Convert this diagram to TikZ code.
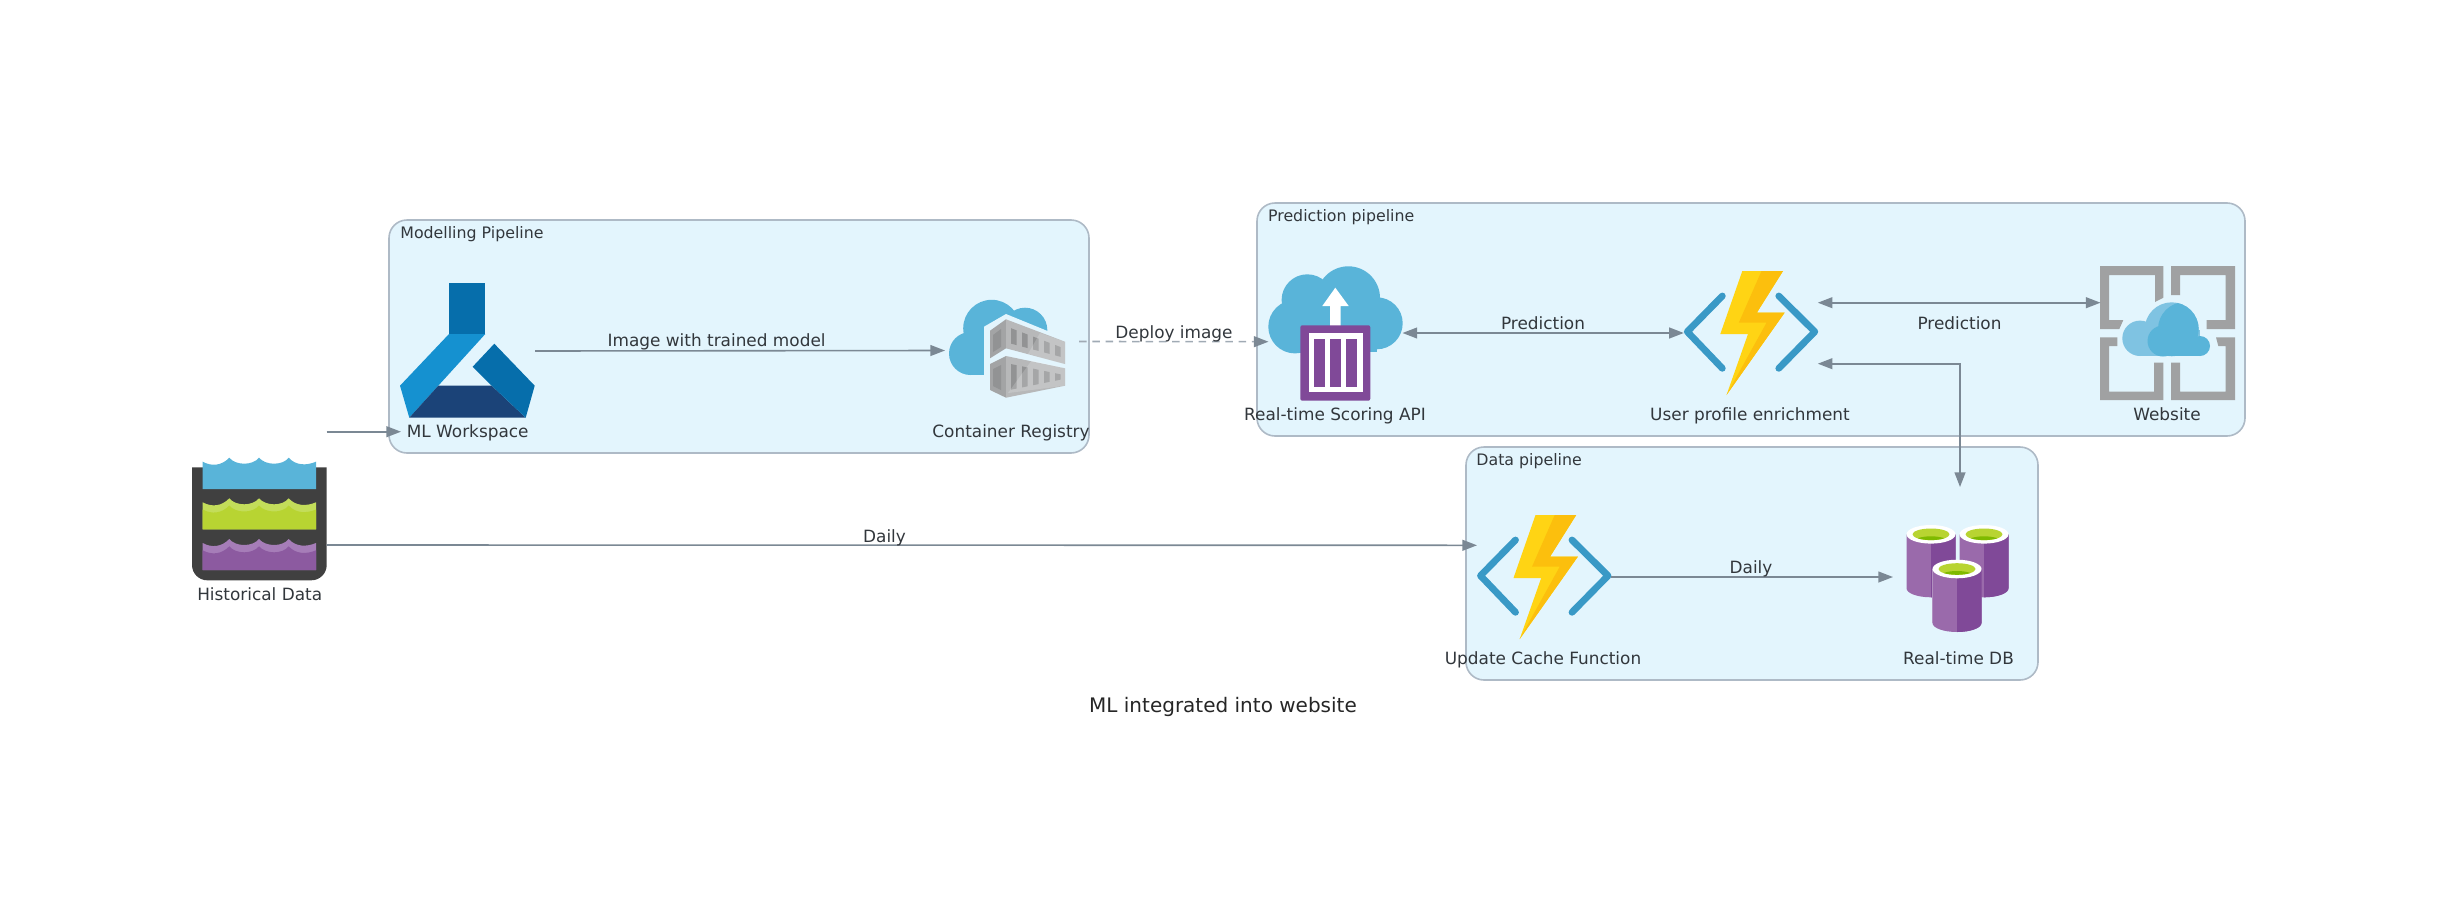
\documentclass[tikz,border=0pt]{standalone}
\usepackage{fontspec}
\setmainfont{DejaVu Sans}
\usetikzlibrary{arrows.meta,calc}
\definecolor{boxfill}{HTML}{E3F5FD}
\definecolor{boxline}{HTML}{AEBAC6}
\definecolor{edgecol}{HTML}{7B8894}
\definecolor{dashcol}{HTML}{A0AAB4}
\definecolor{txt}{HTML}{32373C}
\definecolor{azblue}{HTML}{59B4D9}
\definecolor{azlight}{HTML}{7FC3E2}
\definecolor{azpurple}{HTML}{804998}
\definecolor{azpurplel}{HTML}{9A6AAB}
\definecolor{bracket}{HTML}{3999C6}
\definecolor{bolta}{HTML}{FFD414}
\definecolor{boltb}{HTML}{FCBF0D}
\definecolor{webgrey}{HTML}{A0A1A2}
\definecolor{greya}{HTML}{A3A4A5}
\definecolor{greyb}{HTML}{B7B8B9}
\definecolor{greyc}{HTML}{929394}
\newcommand{\wavepath}[2]{(#1,#2+4) .. controls (#1+9,#2+9) and (#1+19,#2+8) .. (#1+26.6,#2) .. controls (#1+33,#2+8) and (#1+50,#2+8) .. (#1+56.3,#2) .. controls (#1+63,#2+8) and (#1+80,#2+8) .. (#1+86,#2) .. controls (#1+93,#2+8) and (#1+104,#2+8) .. (#1+113.3,#2+4)}
\tikzset{
  x=0.5pt,y=-0.5pt,
  cluster/.style={draw=boxline,fill=boxfill,line width=0.8pt,rounded corners=9pt},
  iconbox/.style={inner sep=0pt,outer sep=0pt,minimum width=67pt},
  lbl/.style={inner sep=0pt,text=txt,font=\fontsize{8.45}{10}\selectfont,anchor=mid,yshift=-0.7pt},
  grplbl/.style={inner sep=0pt,text=txt,font=\fontsize{7.9}{10}\selectfont,anchor=mid west,yshift=-0.7pt},
  edge/.style={draw=edgecol,line width=0.8pt,>={Triangle[length=7.3pt,width=5.4pt]}},
  dashedge/.style={edge,draw=dashcol,dash pattern=on 3.75pt off 2.9pt,-{Triangle[length=7.3pt,width=5.4pt,color=edgecol]}},
  funcicon/.pic={
    \fill[bolta] (-8.5,-62)--(32.2,-62)--(6,-20.3)--(33.8,-20.3)--(-24.3,62)--(-2.8,1)--(-30.5,1)--cycle;
    \fill[boltb] (10.7,-62)--(32.2,-62)--(6,-20.3)--(33.8,-20.3)--(-24.3,62)--(15.7,-10.3)--(-12,-10.3)--cycle;
    \draw[bracket,line width=3.4pt,line cap=round,line join=round] (-28.5,-37)--(-63.5,-1.3)--(-28.5,35.3);
    \draw[bracket,line width=3.4pt,line cap=round,line join=round] (28,-37)--(64,-1.3)--(28,35.3);
  },
  dbcyl/.pic={
    \fill[azpurplel] (-24.5,0)--(24.5,0)--(24.5,54) arc[start angle=0,end angle=180,x radius=24.5,y radius=9]--cycle;
    \fill[azpurple] (0,0)--(24.5,0)--(24.5,54) arc[start angle=0,end angle=90,x radius=24.5,y radius=9]--cycle;
    \fill[white] (0,0) ellipse[x radius=24.5,y radius=9.3];
    \fill[HTML=B8D432] (0,0) ellipse[x radius=18.5,y radius=5.8];
    \begin{scope}
      \clip (0,0) ellipse[x radius=18.5,y radius=5.8];
      \fill[HTML=7FBA00] (0,8) ellipse[x radius=18,y radius=6];
    \end{scope}
  },
  HTML/.code={\definecolor{tmpcol}{HTML}{#1}\tikzset{color=tmpcol}},
}
\begin{document}
\begin{tikzpicture}
\useasboundingbox (0,0) rectangle (2448,916);
% clusters
\path[cluster] (389,220) rectangle (1089,453);
\path[cluster] (1257,203) rectangle (2245,436);
\path[cluster] (1466,447) rectangle (2038,680);
% anchor boxes
\node[iconbox,minimum height=67pt] (hist) at (259.5,545) {};
\node[iconbox,minimum height=67pt] (ml) at (468,351) {};
\node[iconbox,minimum height=67pt] (cont) at (1012,346) {};
\node[iconbox,minimum height=67pt] (score) at (1335.5,333) {};
\node[iconbox,minimum height=67pt] (enrich) at (1750.8,333) {};
\node[iconbox,minimum height=67pt] (web) at (2167.5,333) {};
\node[iconbox,minimum height=62pt] (upd) at (1544,577) {};
\node[iconbox,minimum height=90pt] (db) at (1960,577) {};
% Historical data icon
\fill[HTML=404040] (192,467.3)--(202.7,467.3)--(316,467.3)--(326.7,467.3)--(326.7,565) arc[start angle=0,end angle=90,radius=15.3] -- (207.3,580.3) arc[start angle=90,end angle=180,radius=15.3]--cycle;
\fill[azblue] \wavepath{202.7}{457.7} -- (316,489) -- (202.7,489) -- cycle;
\fill[HTML=C3DD5A] \wavepath{202.7}{498.3} -- (316,529.3) -- (202.7,529.3) -- cycle;
\fill[HTML=B8D432] \wavepath{202.7}{505.5} -- (316,529.3) -- (202.7,529.3) -- cycle;
\fill[HTML=A67DB8] \wavepath{202.7}{539} -- (316,570) -- (202.7,570) -- cycle;
\fill[HTML=8C5AA0] \wavepath{202.7}{546.3} -- (316,570) -- (202.7,570) -- cycle;
% ML workspace icon
\fill[HTML=066EAB] (449,283.3) rectangle (485.3,334);
\fill[HTML=1591D0] (449,334)--(485.3,334)--(438.3,385.7)--(409.3,417.7)--(400,385.7)--cycle;
\fill[HTML=1B4378] (438.3,385.7)--(491.7,385.7)--(525.7,417.7)--(409.3,417.7)--cycle;
\fill[HTML=066EAB] (494.3,343.7)--(534.7,385.7)--(525.7,417.7)--(491.7,385.7)--(472.7,366.7)--cycle;
% Container registry icon
\fill[azblue] (991.7,328.3) circle[radius=28.5];
\fill[azblue] (1025,330) circle[radius=22.3];
\fill[azblue] (970.5,353.5) circle[radius=21.5];
\fill[azblue] (970,340) rectangle (990,375);
\fill[boxfill] (984,326.7)--(1006,314)--(1072,341)--(1072,404)--(984,404)--cycle;
\fill[greya] (990,330.7)--(1006,319.3)--(1006,348.3)--(990,358.3)--cycle;
\fill[greyb] (1006,319.3)--(1065,341.7)--(1065,364)--(1006,348.3)--cycle;
\fill[greya] (990,364)--(1006,356)--(1006,397.7)--(990,390)--cycle;
\fill[greyb] (1006,356)--(1065,368.3)--(1065,385.7)--(1006,397.7)--cycle;
\foreach \sx in {1011,1022,1033,1044,1055}{
  \pgfmathsetmacro{\ex}{\sx+5.5}
  \pgfmathsetmacro{\ta}{319.3+(\sx-1006)*0.38+7}
  \pgfmathsetmacro{\tb}{319.3+(\ex-1006)*0.38+7}
  \pgfmathsetmacro{\ba}{348.3+(\sx-1006)*0.266-6}
  \pgfmathsetmacro{\bb}{348.3+(\ex-1006)*0.266-6}
  \fill[greyc] (\sx,\ta)--(\ex,\tb)--(\ex,\bb)--(\sx,\ba)--cycle;
  \pgfmathsetmacro{\tc}{356+(\sx-1006)*0.208+7}
  \pgfmathsetmacro{\td}{356+(\ex-1006)*0.208+7}
  \pgfmathsetmacro{\bc}{397.7-(\sx-1006)*0.203-7}
  \pgfmathsetmacro{\bd}{397.7-(\ex-1006)*0.203-7}
  \fill[greyc] (\sx,\tc)--(\ex,\td)--(\ex,\bd)--(\sx,\bc)--cycle;
}
\fill[greyc] (993,335)--(1001,329)--(1001,347)--(993,352)--cycle;
\fill[greyc] (993,369)--(1001,365)--(1001,390)--(993,386)--cycle;
\fill[white,opacity=.18] (1008,393)--(1032,360)--(1065,368.3)--(1065,385.7)--cycle;
\fill[white,opacity=.18] (1040,333)--(1065,341.7)--(1065,364)--(1028,354)--cycle;
% Scoring API icon
\fill[azblue] (1307.3,300) circle[radius=25.7];
\fill[azblue] (1348.3,298) circle[radius=31.7];
\fill[azblue] (1295,326.7) circle[radius=26.7];
\fill[azblue] (1376.7,323.3) circle[radius=26];
\fill[azblue] (1295,310) rectangle (1376.7,352.3);
\fill[white] (1330,306)--(1322.3,306)--(1335.3,287.7)--(1348.7,306)--(1340.7,306)--(1340.7,330)--(1330,330)--cycle;
\fill[azpurple,rounded corners=1pt] (1300.3,325.3) rectangle (1370.3,400.7);
\fill[white] (1308.7,333.3) rectangle (1362.7,392.3);
\foreach \bx in {1314,1330,1346.3}{\fill[azpurple] (\bx,338.7) rectangle (\bx+10.7,387);}
% function icons
\pic at (enrich.center) {funcicon};
\pic at (upd.center) {funcicon};
% website icon
\fill[webgrey] (2100,266)--(2163.3,266)--(2163.3,297.7)--(2155,302)--(2155,275)--(2109,275)--(2109,320)--(2123.3,320)--(2119.3,329)--(2100,329)--cycle;
\fill[webgrey] (2235,266)--(2171,266)--(2171,295)--(2180,295)--(2180,275)--(2225.7,275)--(2225.7,320)--(2206.7,320)--(2206.7,329)--(2235,329)--cycle;
\fill[webgrey] (2100,400)--(2163.3,400)--(2163.3,362.7)--(2154,362.7)--(2154,391.7)--(2109,391.7)--(2109,346)--(2117.3,346)--(2117.3,337.3)--(2100,337.3)--cycle;
\fill[webgrey] (2235,400)--(2171,400)--(2171,362.7)--(2180,362.7)--(2180,391.7)--(2225.7,391.7)--(2225.7,346)--(2218.3,346)--(2216,337.3)--(2235,337.3)--cycle;
\fill[azlight] (2171.7,329.3) circle[radius=27];
\fill[azlight] (2140,338.3) circle[radius=17.7];
\fill[azlight] (2140,330) rectangle (2200,356);
\begin{scope}
  \clip (2171.7,329.3) circle[radius=27];
  \fill[azblue] (2185,329) circle[radius=27];
\end{scope}
\fill[azblue] (2200,346) circle[radius=10];
\fill[azblue] (2163,341) circle[radius=15.5];
\fill[azblue] (2163,340) rectangle (2200,356);
% DB icon
\pic at (1931,534.3) {dbcyl};
\pic at (1984,534.3) {dbcyl};
\draw[HTML=BFA6CC,line width=0.6pt] (1932.5,569)--(1932.5,623);
\pic at (1957,569) {dbcyl};
% edges
\draw[edge,->] ([yshift=56.65pt]hist.east) -- ([yshift=-40.35pt]ml.west);
\draw[edge,->] (hist.east) -- ([yshift=15.85pt]upd.west);
\draw[edge,->] (ml.east) -- ([yshift=-2.25pt]cont.west);
\draw[dashedge] ([yshift=2.25pt]cont.east) -- ([yshift=-4.35pt]score.west);
\draw[edge,<->] (score.east) -- (enrich.west);
\draw[edge,<->] ([yshift=15.15pt]enrich.east) -- ([yshift=15.15pt]web.west);
\draw[edge,<->] (db.north) |- ([yshift=-15.35pt]enrich.east);
\draw[edge,->] (upd.east) -- (db.west);
% labels
\node[lbl] (lhist) at (259.7,594) {Historical Data};
\node[lbl] (lml) at (467.7,431) {ML Workspace};
\node[lbl] (lcont) at (1011,431) {Container Registry};
\node[lbl] (lscore) at (1335,414) {Real-time Scoring API};
\node[lbl] (lenrich) at (1750,414) {User profile enrichment};
\node[lbl] (lweb) at (2167,414) {Website};
\node[lbl] (lupd) at (1543,658) {Update Cache Function};
\node[lbl] (ldb) at (1958.5,658) {Real-time DB};
\node[grplbl] (gm) at (400,232) {Modelling Pipeline};
\node[grplbl] (gp) at (1267.7,215) {Prediction pipeline};
\node[grplbl] (gd) at (1476,459) {Data pipeline};
\node[lbl] (e1) at (716.6,339.5) {Image with trained model};
\node[lbl] (e2) at (1174,332) {Deploy image};
\node[lbl] (e3) at (1543,323) {Prediction};
\node[lbl] (e4) at (1959.5,323) {Prediction};
\node[lbl] (e5) at (884.5,535.5) {Daily};
\node[lbl] (e6) at (1751,567) {Daily};
\node[inner sep=0pt,text=black!85,font=\fontsize{10}{12}\selectfont,anchor=mid,yshift=-0.7pt] (title) at (1223,705.6) {ML integrated into website};
\end{tikzpicture}
\end{document}
